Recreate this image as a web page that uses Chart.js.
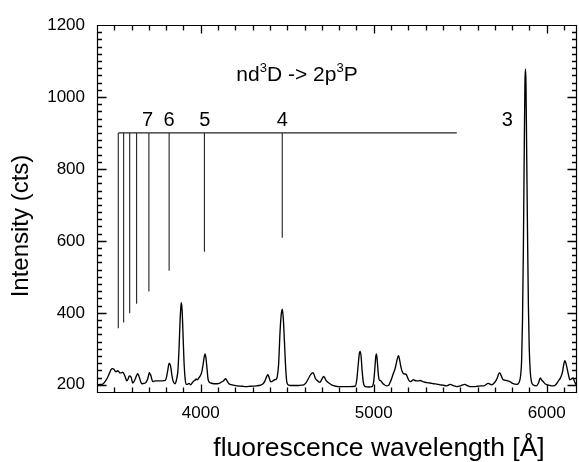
<!DOCTYPE html>
<html><head><meta charset="utf-8">
<script src="https://cdn.jsdelivr.net/npm/chart.js@4/dist/chart.umd.min.js"></script>
<style>html,body{margin:0;padding:0;background:#fff;} #wrap{width:579px;height:462px;}</style>
</head><body><div id="wrap"><canvas id="c" width="579" height="462"></canvas></div>
<script>
// ---- data ----
const wavelengths = [3400,3420,3433,3445,3455,3462,3472,3481,3490,3498,3505,3512,3520,3527,3533,3541,3549,3556,3564,3572,3580,3587,3593,3598,3602,3606,3613,3621,3628,3635,3640,3646,3653,3660,3670,3679,3686,3693,3698,3702,3707,3712,3717,3722,3730,3741,3760,3779,3795,3802,3808,3813,3817,3822,3827,3832,3837,3843,3850,3856,3862,3868,3875,3880,3885,3888,3892,3897,3903,3910,3917,3925,3932,3942,3950,3961,3967,3973,3980,3990,3998,4006,4013,4020,4025,4030,4036,4042,4050,4058,4075,4096,4110,4125,4135,4144,4152,4163,4180,4211,4240,4260,4288,4320,4346,4360,4369,4380,4388,4395,4402,4407,4417,4427,4435,4442,4450,4458,4465,4471,4477,4484,4491,4498,4509,4520,4540,4560,4580,4595,4610,4624,4636,4648,4656,4662,4669,4680,4688,4696,4705,4711,4718,4724,4730,4740,4759,4780,4797,4830,4860,4893,4902,4910,4917,4922,4927,4933,4940,4951,4970,4990,5000,5007,5012,5016,5021,5027,5033,5038,5043,5050,5061,5075,5085,5093,5101,5112,5124,5135,5143,5150,5157,5165,5172,5180,5187,5195,5201,5208,5214,5222,5229,5238,5248,5258,5268,5288,5307,5326,5345,5365,5383,5400,5422,5441,5460,5480,5500,5527,5540,5556,5580,5600,5620,5640,5662,5681,5700,5714,5722,5729,5737,5745,5756,5767,5787,5806,5825,5835,5843,5850,5855,5860,5865,5870,5874,5877,5880,5884,5889,5894,5899,5905,5912,5921,5940,5952,5963,5971,5979,5990,6002,6020,6037,6052,6065,6080,6090,6098,6105,6112,6119,6127,6133,6142,6152,6160,6167,6175];
const counts = [200,201,202,208,215,221,232,242,245,243,238,237,239,236,233,233,235,230,221,211,216,225,224,220,212,205,208,216,225,231,227,219,208,203,204,205,209,216,226,234,230,225,215,209,210,211,211,211,212,222,237,252,260,257,248,230,216,207,203,207,220,240,310,375,418,428,408,345,265,215,201,202,204,200,205,211,213,216,214,220,226,236,255,278,286,274,245,216,207,205,203,203,205,209,213,217,211,203,200,197,196,195,196,197,199,203,209,222,228,220,210,208,211,214,215,222,258,345,395,410,385,316,245,206,199,198,198,198,199,200,207,219,229,234,227,218,214,209,207,212,220,223,218,212,209,205,199,196,195,195,195,196,215,255,288,293,278,238,206,195,194,195,210,250,280,286,262,226,212,212,210,205,200,197,198,205,214,230,246,270,281,268,250,236,231,230,229,221,214,210,209,212,214,212,211,211,212,208,206,205,203,202,200,199,197,201,198,195,197,201,198,195,195,196,197,198,204,200,207,219,230,233,225,216,213,212,209,203,201,203,210,230,270,380,580,850,1040,1078,1040,850,620,420,300,235,208,200,197,205,219,213,209,203,200,198,197,200,209,220,233,255,267,258,242,225,214,216,219,210,203,195];

// nd3D -> 2p3P series markers
const seriesLambda = [3523,3554,3589,3629,3700,3817,4021,4471];
const seriesBottom = [357,373,399,425,459,517,570,609];
const seriesTop = 900;
const seriesBarEnd = 5480;
const seriesLabels = ['7','6','5','4','3'];
const seriesLabelLambda = [3693,3816,4023,4471,5772];
const seriesLabelY = 936;

const xTickValues = [4000,5000,6000];
const yTickValues = [200,400,600,800,1000,1200];
const xMin = 3400, xMax = 6175, yMin = 180, yMax = 1200;

const FONT = "'Liberation Sans', Arial, Helvetica, sans-serif";

const spectrum = wavelengths.map((w,i)=>({x:w,y:counts[i]}));
const datasets = [{
  data: spectrum, borderColor:'#000', borderWidth:1.35, pointRadius:0,
  cubicInterpolationMode:'monotone', fill:false
},{
  data:[{x:seriesLambda[0],y:seriesTop},{x:seriesBarEnd,y:seriesTop}],
  borderColor:'#222', borderWidth:1.2, pointRadius:0, fill:false
}];
seriesLambda.forEach((w,i)=>{
  datasets.push({data:[{x:w,y:seriesTop},{x:w,y:seriesBottom[i]}],
    borderColor:'#222', borderWidth:1.1, pointRadius:0, fill:false});
});

const decor = {
  id:'decor',
  afterDraw(chart){
    const {ctx, chartArea:a, scales:{x,y}} = chart;
    const L0=Math.round(a.left), R0=Math.round(a.right), T0=Math.round(a.top), B0=Math.round(a.bottom);
    ctx.save();
    ctx.strokeStyle='#000'; ctx.lineWidth=1.2;
    ctx.beginPath();
    ctx.rect(L0+0.5, T0+0.5, R0-L0-1, B0-T0);
    ctx.stroke();
    ctx.lineWidth=1.3;
    ctx.beginPath();
    for(let v=3500; v<=6100; v+=100){
      const px=Math.round(x.getPixelForValue(v))+0.5;
      const len = (v%1000===0)?8:5;
      ctx.moveTo(px,B0+0.5); ctx.lineTo(px,B0+0.5-len);
      ctx.moveTo(px,T0+0.5); ctx.lineTo(px,T0+0.5+len);
    }
    for(let v=200; v<=1180; v+=20){
      const py=Math.round(y.getPixelForValue(v))+0.5;
      const len = (v%200===0)?9:4.5;
      ctx.moveTo(L0+0.5,py); ctx.lineTo(L0+0.5+len,py);
      ctx.moveTo(R0-0.5,py); ctx.lineTo(R0-0.5-len,py);
    }
    ctx.stroke();
    ctx.fillStyle='#000';
    // series labels
    ctx.font='20px '+FONT; ctx.textAlign='center'; ctx.textBaseline='middle';
    seriesLabels.forEach((t,i)=>{
      ctx.fillText(t, x.getPixelForValue(seriesLabelLambda[i]), y.getPixelForValue(seriesLabelY));
    });
    // transition label with superscripts
    const parts=[['nd',0],['3',1],['D -> 2p',0],['3',1],['P',0]];
    const big='21px '+FONT, small='13px '+FONT;
    let w=0; parts.forEach(p=>{ctx.font=p[1]?small:big; w+=ctx.measureText(p[0]).width;});
    let cx=297-w/2; const base=81;
    ctx.textAlign='left'; ctx.textBaseline='alphabetic';
    parts.forEach(p=>{ctx.font=p[1]?small:big; ctx.fillText(p[0],cx,p[1]?base-9:base); cx+=ctx.measureText(p[0]).width;});
    // axis titles
    ctx.font='26.5px '+FONT; ctx.textAlign='center'; ctx.textBaseline='middle';
    ctx.fillText('fluorescence wavelength [Å]', 379, 449);
    ctx.font='24px '+FONT;
    ctx.save(); ctx.translate(21,226); ctx.rotate(-Math.PI/2);
    ctx.fillText('Intensity (cts)',0,0); ctx.restore();
    ctx.restore();
  }
};

new Chart(document.getElementById('c'),{
  type:'line',
  data:{datasets},
  options:{
    responsive:false, animation:false, devicePixelRatio:1,
    layout:{padding:{left:0,right:2,top:25,bottom:0}},
    plugins:{legend:{display:false}, tooltip:{enabled:false}},
    elements:{line:{tension:0}},
    scales:{
      x:{type:'linear', min:xMin, max:xMax,
        grid:{display:false, drawTicks:false}, border:{display:false},
        afterBuildTicks:s=>{s.ticks=xTickValues.map(v=>({value:v}));},
        afterFit:s=>{s.height=70;},
        ticks:{color:'#000', font:{size:17,family:FONT}, padding:11, maxRotation:0, callback:v=>String(v)}},
      y:{type:'linear', min:yMin, max:yMax,
        grid:{display:false, drawTicks:false}, border:{display:false},
        afterBuildTicks:s=>{s.ticks=yTickValues.map(v=>({value:v}));},
        afterFit:s=>{s.width=97;},
        ticks:{color:'#000', font:{size:17,family:FONT}, padding:12, callback:v=>String(v)}}
    }
  },
  plugins:[decor]
});
</script></body></html>
